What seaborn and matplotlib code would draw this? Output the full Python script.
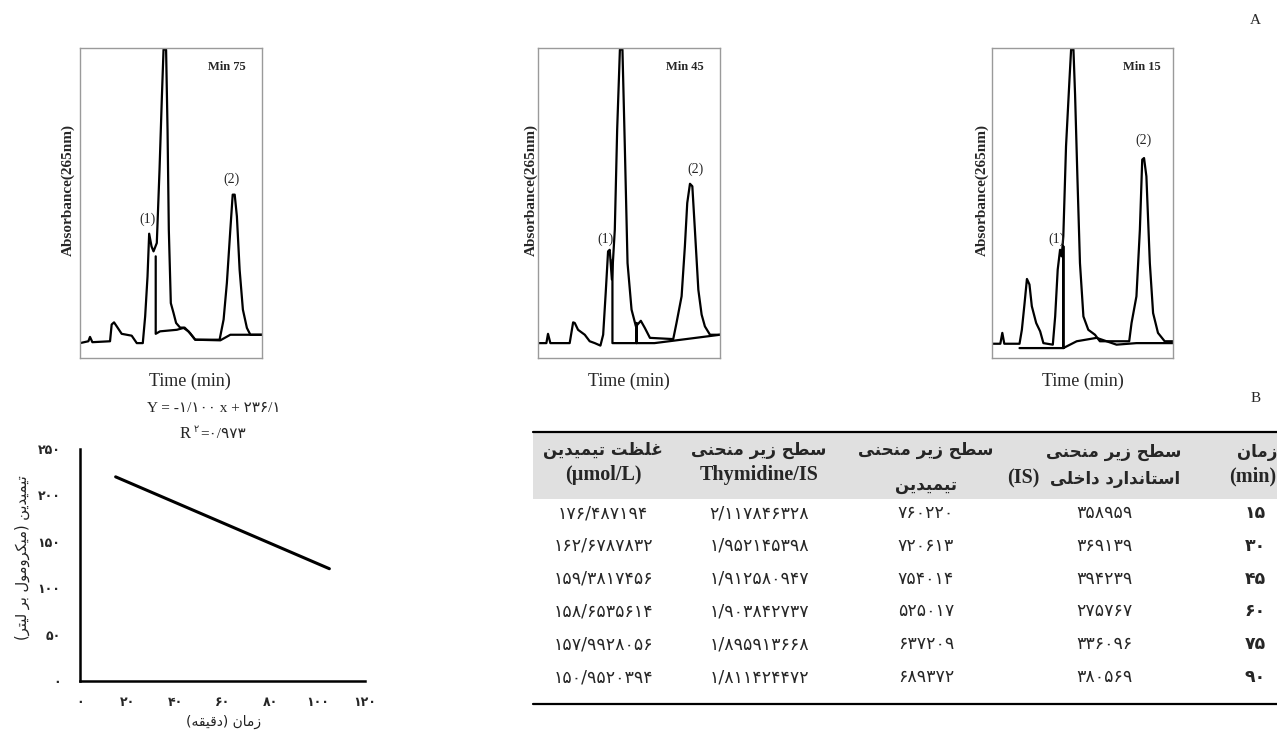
import matplotlib
matplotlib.use("Agg")
import matplotlib.pyplot as plt
import seaborn as sns

W, H = 1277, 735

# chromatogram traces (retention in % of window, absorbance in % of full scale)
rt_75 = [0, 4.6, 5.5, 6.8, 16.5, 17.4, 18.7, 20.2, 22.9, 28.4, 31.2, 34.5, 35.8, 37.1, 38.0,
         39.3, 40.4, 42.2, 43.7, 45.0, 45.9, 47.3, 48.1, 48.8, 49.9, 51.4, 52.8, 55.0, 57.5,
         60.5, 63.3, 76.7, 78.9, 80.7, 82.6, 83.9, 85.0, 86.2, 87.7, 89.5, 91.7, 93.6, 100]
abs_75 = [4.8, 5.4, 6.8, 5.1, 5.4, 10.8, 11.5, 10.2, 7.8, 7.2, 4.8, 4.8, 13.4, 26.3, 40.1,
          36.0, 34.4, 37.1, 60.8, 84.4, 99.5, 99.5, 73.7, 41.4, 17.7, 14.5, 11.3, 9.8, 9.8,
          8.0, 5.9, 5.9, 12.4, 24.2, 41.4, 52.7, 52.7, 45.7, 28.5, 15.6, 9.7, 7.5, 7.5]
base_rt_75 = [41.6, 41.6, 44.0, 53.2, 56.9, 59.6, 63.3, 77.1, 82.6, 100]
base_abs_75 = [32.8, 7.8, 8.6, 9.1, 9.7, 8.6, 5.9, 5.7, 7.5, 7.5]

rt_45 = [0, 4.6, 5.5, 6.8, 17.4, 19.3, 20.2, 22.0, 25.7, 28.4, 31.2, 34.3, 35.8, 37.2, 38.5,
         39.4, 40.6, 42.2, 43.5, 45.0, 46.4, 47.7, 49.2, 51.4, 53.8, 56.5, 58.7, 61.5, 74.3,
         76.1, 78.9, 80.7, 82.0, 83.5, 84.8, 86.2, 88.1, 89.9, 91.7, 94.5, 100]
abs_45 = [4.8, 4.8, 7.8, 4.8, 4.8, 11.5, 11.3, 9.1, 7.5, 5.4, 4.8, 4.0, 7.5, 21.0, 34.4,
          34.9, 25.3, 41.4, 73.7, 99.5, 99.5, 68.3, 30.6, 15.6, 10.2, 12.0, 9.7, 6.5, 6.1,
          11.3, 19.9, 36.0, 50.0, 56.2, 55.4, 41.4, 22.0, 14.0, 10.2, 7.5, 7.5]
base_rt_45 = [40.9, 40.9, 54.1, 54.1, 54.1, 64.0, 100]
base_abs_45 = [31.7, 4.8, 4.8, 11.3, 4.8, 4.8, 7.5]

rt_15 = [0, 4.6, 5.7, 6.8, 15.2, 16.5, 18.0, 19.3, 20.7, 22.0, 24.4, 26.6, 28.4, 33.6, 34.9,
         36.3, 37.6, 38.5, 39.4, 40.9, 42.8, 43.7, 45.0, 45.9, 47.2, 48.6, 50.5, 53.2, 56.9,
         59.6, 75.8, 77.1, 79.8, 81.7, 83.0, 84.0, 85.3, 87.2, 89.0, 91.7, 95.4, 100]
abs_15 = [4.6, 4.6, 8.1, 4.6, 4.6, 9.1, 17.7, 25.5, 23.7, 16.7, 11.3, 8.6, 4.8, 4.3, 13.4,
          28.5, 34.9, 32.8, 39.2, 68.3, 89.8, 99.5, 99.5, 84.9, 58.0, 30.6, 13.4, 9.1, 7.5,
          5.4, 5.4, 11.3, 19.9, 41.4, 64.0, 64.5, 58.6, 30.6, 14.5, 8.1, 5.4, 5.4]
base_rt_15 = [15.2, 39.4, 39.4, 39.4, 46.8, 57.8, 68.8, 79.8, 100]
base_abs_15 = [3.2, 3.2, 36.0, 3.2, 5.4, 6.5, 4.3, 4.8, 4.8]

# regression line (time in min vs thymidine in umol/L)
fit_time = [15, 105]
fit_thy = [220, 121]
fit_eq = "-1.100"
fit_icpt = "236.1"
fit_r2 = "0.973"
x_ticks = [0, 20, 40, 60, 80, 100, 120]
y_ticks = [0, 50, 100, 150, 200, 250]

# table B
times = [15, 30, 45, 60, 75, 90]
is_area = [358959, 369139, 394239, 275767, 336096, 380569]
thy_area = [760220, 720613, 754014, 525017, 637209, 689372]
ratio = [2.117846328, 1.952145398, 1.912580947, 1.903842737, 1.895913668, 1.811424472]
conc = [176.487194, 162.6787832, 159.3817456, 158.6535614, 157.9928056, 150.9520394]

# ---- persian text helpers (no shaping engine in matplotlib) ----
FORMS = {
    'ا': ('\uFE8D', '\uFE8E', None, None), 'ب': ('\uFE8F', '\uFE90', '\uFE91', '\uFE92'),
    'ت': ('\uFE95', '\uFE96', '\uFE97', '\uFE98'), 'ح': ('\uFEA1', '\uFEA2', '\uFEA3', '\uFEA4'),
    'خ': ('\uFEA5', '\uFEA6', '\uFEA7', '\uFEA8'), 'د': ('\uFEA9', '\uFEAA', None, None),
    'ر': ('\uFEAD', '\uFEAE', None, None), 'ز': ('\uFEAF', '\uFEB0', None, None),
    'س': ('\uFEB1', '\uFEB2', '\uFEB3', '\uFEB4'), 'ط': ('\uFEC1', '\uFEC2', '\uFEC3', '\uFEC4'),
    'ظ': ('\uFEC5', '\uFEC6', '\uFEC7', '\uFEC8'), 'غ': ('\uFECD', '\uFECE', '\uFECF', '\uFED0'),
    'ق': ('\uFED5', '\uFED6', '\uFED7', '\uFED8'), 'ل': ('\uFEDD', '\uFEDE', '\uFEDF', '\uFEE0'),
    'م': ('\uFEE1', '\uFEE2', '\uFEE3', '\uFEE4'), 'ن': ('\uFEE5', '\uFEE6', '\uFEE7', '\uFEE8'),
    'ه': ('\uFEE9', '\uFEEA', '\uFEEB', '\uFEEC'), 'و': ('\uFEED', '\uFEEE', None, None),
    'ی': ('\uFBFC', '\uFBFD', '\uFBFE', '\uFBFF'), 'ک': ('\uFB8E', '\uFB8F', '\uFB90', '\uFB91'),
}


def fa(s):
    out = []
    for i, c in enumerate(s):
        if c not in FORMS:
            out.append(c)
            continue
        prev = s[i - 1] if i > 0 else ''
        nxt = s[i + 1] if i + 1 < len(s) else ''
        jp = prev in FORMS and FORMS[prev][2] is not None
        jn = FORMS[c][2] is not None and nxt in FORMS
        iso, fin, ini, med = FORMS[c]
        out.append(med if jp and jn else fin if jp else ini if jn else iso)
    vis = ''.join(out)[::-1]
    return vis.translate(str.maketrans('()', ')('))


def fnum(v):
    return str(v).translate(str.maketrans('0123456789.', '۰۱۲۳۴۵۶۷۸۹/'))


sns.set_style("white")
plt.rcParams['font.family'] = ['Liberation Serif', 'DejaVu Sans']
FA = ['DejaVu Sans']
SERIF_FA = ['Liberation Serif', 'DejaVu Sans']

fig = plt.figure(figsize=(W / 100, H / 100), dpi=100)


def box(x0, y0, x1, y1):
    return [x0 / W, 1 - y1 / H, (x1 - x0) / W, (y1 - y0) / H]


def chrom(rect, rt, ab, brt, bab, tag, p1, p2, tag_xy):
    ax = fig.add_axes(rect)
    sns.lineplot(x=rt, y=ab, sort=False, estimator=None, color='black', lw=1.6, ax=ax)
    sns.lineplot(x=brt, y=bab, sort=False, estimator=None, color='black', lw=1.6, ax=ax)
    ax.set_xlim(0, 100)
    ax.set_ylim(0, 100)
    ax.set_xticks([])
    ax.set_yticks([])
    ax.set_xlabel('')
    ax.set_ylabel('')
    for sp in ax.spines.values():
        sp.set_color('#9a9a9a')
        sp.set_linewidth(1.0)
    ax.text(*p1, '(1)', ha='center', va='center', fontsize=10)
    ax.text(*p2, '(2)', ha='center', va='center', fontsize=10)
    ax.text(*tag_xy, tag, ha='center', va='center', fontsize=9, weight='bold')
    return ax


chrom(box(80, 48, 262, 358), rt_75, abs_75, base_rt_75, base_abs_75, 'Min 75',
      (37, 44.6), (83, 57.5), (80.7, 93.9))
chrom(box(538, 48, 720, 358), rt_45, abs_45, base_rt_45, base_abs_45, 'Min 45',
      (37.2, 38.2), (86.6, 60.8), (80.7, 94))
chrom(box(992, 48, 1173, 358), rt_15, abs_15, base_rt_15, base_abs_15, 'Min 15',
      (35.8, 38.2), (83.5, 70.4), (82.6, 94))

for lx, tx in [(68, 190), (531, 629), (982, 1083)]:
    fig.text(lx / W, 1 - 190 / H, 'Absorbance(265nm)', rotation=90, ha='center', va='center',
             fontsize=11, weight='bold')
    fig.text(tx / W, 1 - 381 / H, 'Time (min)', ha='center', va='center', fontsize=13)

fig.text(1255 / W, 1 - 20 / H, 'A', ha='center', va='center', fontsize=11)
fig.text(1256 / W, 1 - 398 / H, 'B', ha='center', va='center', fontsize=11)

# ---- regression plot ----
ax = fig.add_axes(box(80, 449, 365, 681))
sns.lineplot(x=fit_time, y=fit_thy, color='black', lw=2.2, ax=ax)
ax.set_xlim(0, 120)
ax.set_ylim(0, 250)
ax.set_xticks(x_ticks)
ax.set_xticklabels([fnum(t) for t in x_ticks], family=FA, weight='bold', fontsize=9)
ax.set_yticks(y_ticks)
ax.set_yticklabels([fnum(t) for t in y_ticks], family=FA, weight='bold', fontsize=9)
ax.tick_params(axis='x', direction='out', length=4, width=1.2, pad=7)
ax.tick_params(axis='y', direction='out', length=4, width=1.2, pad=10)
sns.despine(ax=ax)
for s in ['left', 'bottom']:
    ax.spines[s].set_color('black')
    ax.spines[s].set_linewidth(1.8)
ax.set_xlabel('')
ax.set_ylabel('')

fig.text(22 / W, 1 - 558 / H, fa('تیمیدین (میکرومول بر لیتر)'), rotation=90, ha='center',
         va='center', family=FA, fontsize=10.5, color='#222222')
fig.text(224 / W, 1 - 722 / H, fa('زمان (دقیقه)'), ha='center', va='center', family=FA,
         fontsize=10, color='#222222')
fig.text(214 / W, 1 - 409 / H, 'Y = ' + fnum(fit_eq) + ' x + ' + fnum(fit_icpt),
         ha='center', va='center', family=SERIF_FA, fontsize=11)
fig.text(185 / W, 1 - 434 / H, 'R', ha='center', va='center', fontsize=12)
fig.text(196 / W, 1 - 429 / H, fnum(2), ha='center', va='center', family=FA, fontsize=7)
fig.text(200 / W, 1 - 434 / H, '=' + fnum(fit_r2), ha='left', va='center',
         family=SERIF_FA, fontsize=11)

# ---- table B ----
lay = fig.add_axes([0, 0, 1, 1])
lay.set_xlim(0, W)
lay.set_ylim(H, 0)
lay.axis('off')
lay.fill_between([533, W], 432, 499, color='#e0e0e0', lw=0)
lay.plot([533, W], [432, 432], color='black', lw=1.6)
lay.plot([533, W], [704, 704], color='black', lw=1.6)

col_x = [603, 759, 926, 1104]
hdr = dict(ha='center', va='center', weight='bold', fontsize=12, family=FA)
lat = dict(ha='center', va='center', weight='bold', fontsize=14.5, family=SERIF_FA)
lay.text(col_x[0], 450, fa('غلظت تیمیدین'), **hdr)
lay.text(col_x[0], 475, '(µmol/L)', **lat)
lay.text(col_x[1], 450, fa('سطح زیر منحنی'), **hdr)
lay.text(col_x[1], 475, 'Thymidine/IS', **lat)
lay.text(col_x[2], 450, fa('سطح زیر منحنی'), **hdr)
lay.text(col_x[2], 485, fa('تیمیدین'), **hdr)
lay.text(col_x[3] + 10, 452, fa('سطح زیر منحنی'), **hdr)
lay.text(1180, 479, fa('استاندارد داخلی'), ha='right', va='center', weight='bold',
         fontsize=12, family=FA)
lay.text(1040, 478, '(IS)', ha='right', va='center', weight='bold', fontsize=14.5,
         family=SERIF_FA)
lay.text(1277, 452, fa('زمان'), ha='right', va='center', weight='bold', fontsize=12, family=FA)
lay.text(1276, 476, '(min)', ha='right', va='center', weight='bold', fontsize=14.5,
         family=SERIF_FA)

row_y0, row_h = 513, 32.8
for i in range(len(times)):
    y = row_y0 + i * row_h
    cells = [conc[i], ratio[i], thy_area[i], is_area[i]]
    for cx, v in zip(col_x, cells):
        lay.text(cx, y, fnum(v), ha='center', va='center', family=FA, fontsize=12.5)
    lay.text(1266, y, fnum(times[i]), ha='right', va='center', family=FA, fontsize=12.5,
             weight='bold')

fig.savefig('out.png', dpi=100)
